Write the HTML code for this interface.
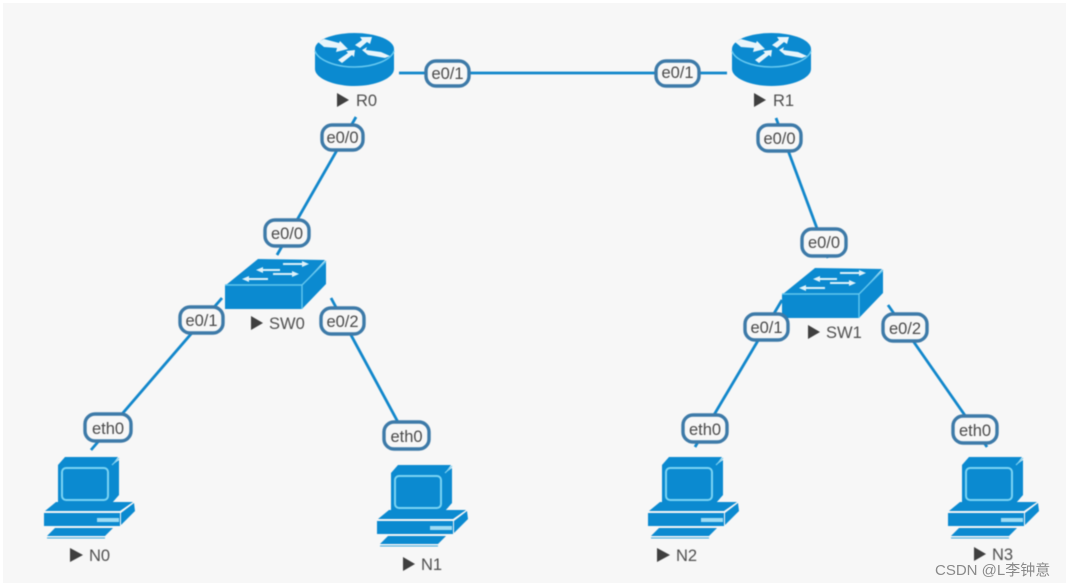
<!DOCTYPE html>
<html><head><meta charset="utf-8">
<style>
html,body{margin:0;padding:0;background:#fff;width:1066px;height:587px;overflow:hidden}
svg{display:block}
text{font-family:"Liberation Sans","Noto Sans CJK SC",sans-serif}
.l{font-size:16.500px;fill:#4a4a4a;text-anchor:middle}
.n{font-size:16.500px;fill:#4f4f4f}
.t{fill:#3f3f3f}
.b{fill:#f7f7f7;stroke:#3d7aa8;stroke-width:3.400}
.w{stroke:#1287cb;stroke-width:2.800;fill:none}
.soft{filter:blur(0.4px)}
</style></head><body>
<svg width="1066" height="587" viewBox="0 0 1066 587" xmlns="http://www.w3.org/2000/svg">
<defs>
<g id="router">
 <path d="M0 16V36C0 45 18 53 39.500 53S79 45 79 36V16Z" fill="#0b8ad0"/>
 <ellipse cx="39.500" cy="16" rx="39.500" ry="16" fill="#0b8ad0"/>
 <path d="M0 18C3 27 20 34 39.500 34S76 27 79 18" fill="none" stroke="#66c8f0" stroke-width="1.500"/>
 <path d="M3 9L9 6L24 10L25 8L33 16L21 19L22 15L9 14Z" fill="#e8f5fb"/>
 <path d="M40 12L47 7L45 4L57 4L55 11L52 9L45 15Z" fill="#e8f5fb"/>
 <path d="M47 17L52 14L51 17L66 19L75 23L70 25L53 22Z" fill="#e8f5fb"/>
 <path d="M23 27L33 20L31 18L40 17L39 24L37 22L27 30Z" fill="#e8f5fb"/>
</g>
<g id="switch">
 <polygon points="1,26 33,0 100,1 77,26" fill="#0b8ad0"/>
 <polygon points="77,26 101,3 101,25 77,50" fill="#0b8ad0"/>
 <rect x="0" y="26" width="77" height="24" fill="#0b8ad0"/>
 <path d="M0 26H77L101 2M77 26V50" fill="none" stroke="#62c6ee" stroke-width="1.400"/>
 <path d="M36 11H55M58 5H78M48 15H69M22 20H43" stroke="#dff2fa" stroke-width="2"/>
 <path d="M31 11L38 8V14ZM84 5L77 2V8ZM74 15L67 12V18ZM17 20L24 17V23Z" fill="#dff2fa"/>
</g>
<g id="pc">
 <polygon points="14,8 21,0 74,0 68,8" fill="#0b8ad0"/>
 <polygon points="68,8 75,3 75,38 68,46" fill="#0b8ad0"/>
 <rect x="14" y="8" width="54" height="38" fill="#0b8ad0"/>
 <path d="M68 8L75 1" stroke="#7bd0f1" stroke-width="1.200"/>
 <rect x="18" y="11" width="46" height="32" rx="4" fill="#0b8ad0" stroke="#7bd4f3" stroke-width="2"/>
 <polygon points="12,45 89,45 76,54 1,54" fill="#0b8ad0"/>
 <polygon points="77,56 90,46 91,54 77,68" fill="#0b8ad0"/>
 <rect x="0" y="56" width="76" height="13" fill="#0b8ad0"/>
 <rect x="53" y="61" width="22" height="4" fill="#9fdcf4"/>
 <polygon points="11,71 69,71 61,79 3,79" fill="#0b8ad0"/>
 <path d="M3 81H61" stroke="#3aa6dc" stroke-width="1"/>
</g>
</defs>

<rect x="3" y="3" width="1063" height="580" fill="#f7f7f7"/>

<g class="soft">
<path class="w" d="M399 73H727"/>
<path class="w" d="M356 117L277 255"/>
<path class="w" d="M776 118L828 258"/>
<path class="w" d="M222 298L91 450"/>
<path class="w" d="M331 298L413 450"/>
<path class="w" d="M782 300L695 447"/>
<path class="w" d="M888 305L987 447"/>

<use href="#router" x="315" y="33"/>
<use href="#router" x="732" y="33"/>
<use href="#switch" x="225" y="259"/>
<use href="#switch" x="782" y="268"/>
<use href="#pc" x="44" y="457"/>
<use href="#pc" x="377" y="465"/>
<use href="#pc" x="648" y="457"/>
<use href="#pc" x="948" y="457"/>

<rect class="b" x="426" y="61" width="43" height="25" rx="10"/><text class="l" x="447.500" y="79">e0/1</text>
<rect class="b" x="656" y="61" width="43" height="25" rx="10"/><text class="l" x="677.500" y="78">e0/1</text>
<rect class="b" x="322" y="125" width="41" height="25" rx="10"/><text class="l" x="342.500" y="143">e0/0</text>
<rect class="b" x="758" y="125" width="43" height="26" rx="10"/><text class="l" x="779.500" y="144">e0/0</text>
<rect class="b" x="265" y="220" width="44" height="26" rx="10"/><text class="l" x="287" y="239">e0/0</text>
<rect class="b" x="802" y="229" width="44" height="27" rx="10"/><text class="l" x="824" y="248">e0/0</text>
<rect class="b" x="180" y="307" width="43" height="26" rx="10"/><text class="l" x="201.500" y="326">e0/1</text>
<rect class="b" x="321" y="308" width="43" height="26" rx="10"/><text class="l" x="342.500" y="327">e0/2</text>
<rect class="b" x="745" y="314" width="43" height="26" rx="10"/><text class="l" x="766.500" y="333">e0/1</text>
<rect class="b" x="883" y="314" width="44" height="27" rx="10"/><text class="l" x="905" y="334">e0/2</text>
<rect class="b" x="85" y="414" width="46" height="27" rx="10"/><text class="l" x="108" y="434">eth0</text>
<rect class="b" x="384" y="422" width="45" height="27" rx="10"/><text class="l" x="406.500" y="442">eth0</text>
<rect class="b" x="683" y="415" width="44" height="27" rx="10"/><text class="l" x="705" y="435">eth0</text>
<rect class="b" x="953" y="416" width="44" height="27" rx="10"/><text class="l" x="975" y="436">eth0</text>

<polygon class="t" points="337,93 349,100 337,107"/><text class="n" x="356" y="106">R0</text>
<polygon class="t" points="754,93 766,100 754,107"/><text class="n" x="773" y="106">R1</text>
<polygon class="t" points="251,316 263,323 251,330"/><text class="n" x="269" y="329">SW0</text>
<polygon class="t" points="808,325 820,332 808,339"/><text class="n" x="826" y="338">SW1</text>
<polygon class="t" points="70,548 83,555 70,562"/><text class="n" x="89" y="561">N0</text>
<polygon class="t" points="403,557 415,564 403,571"/><text class="n" x="421" y="570">N1</text>
<polygon class="t" points="657,548 670,555 657,562"/><text class="n" x="676" y="561">N2</text>
<polygon class="t" points="974,547 986,554 974,561"/><text class="n" x="992" y="560">N3</text>
</g>

<text x="935" y="575" font-size="15" fill="#8a8a8a">CSDN @L李钟意</text>
</svg>
</body></html>
